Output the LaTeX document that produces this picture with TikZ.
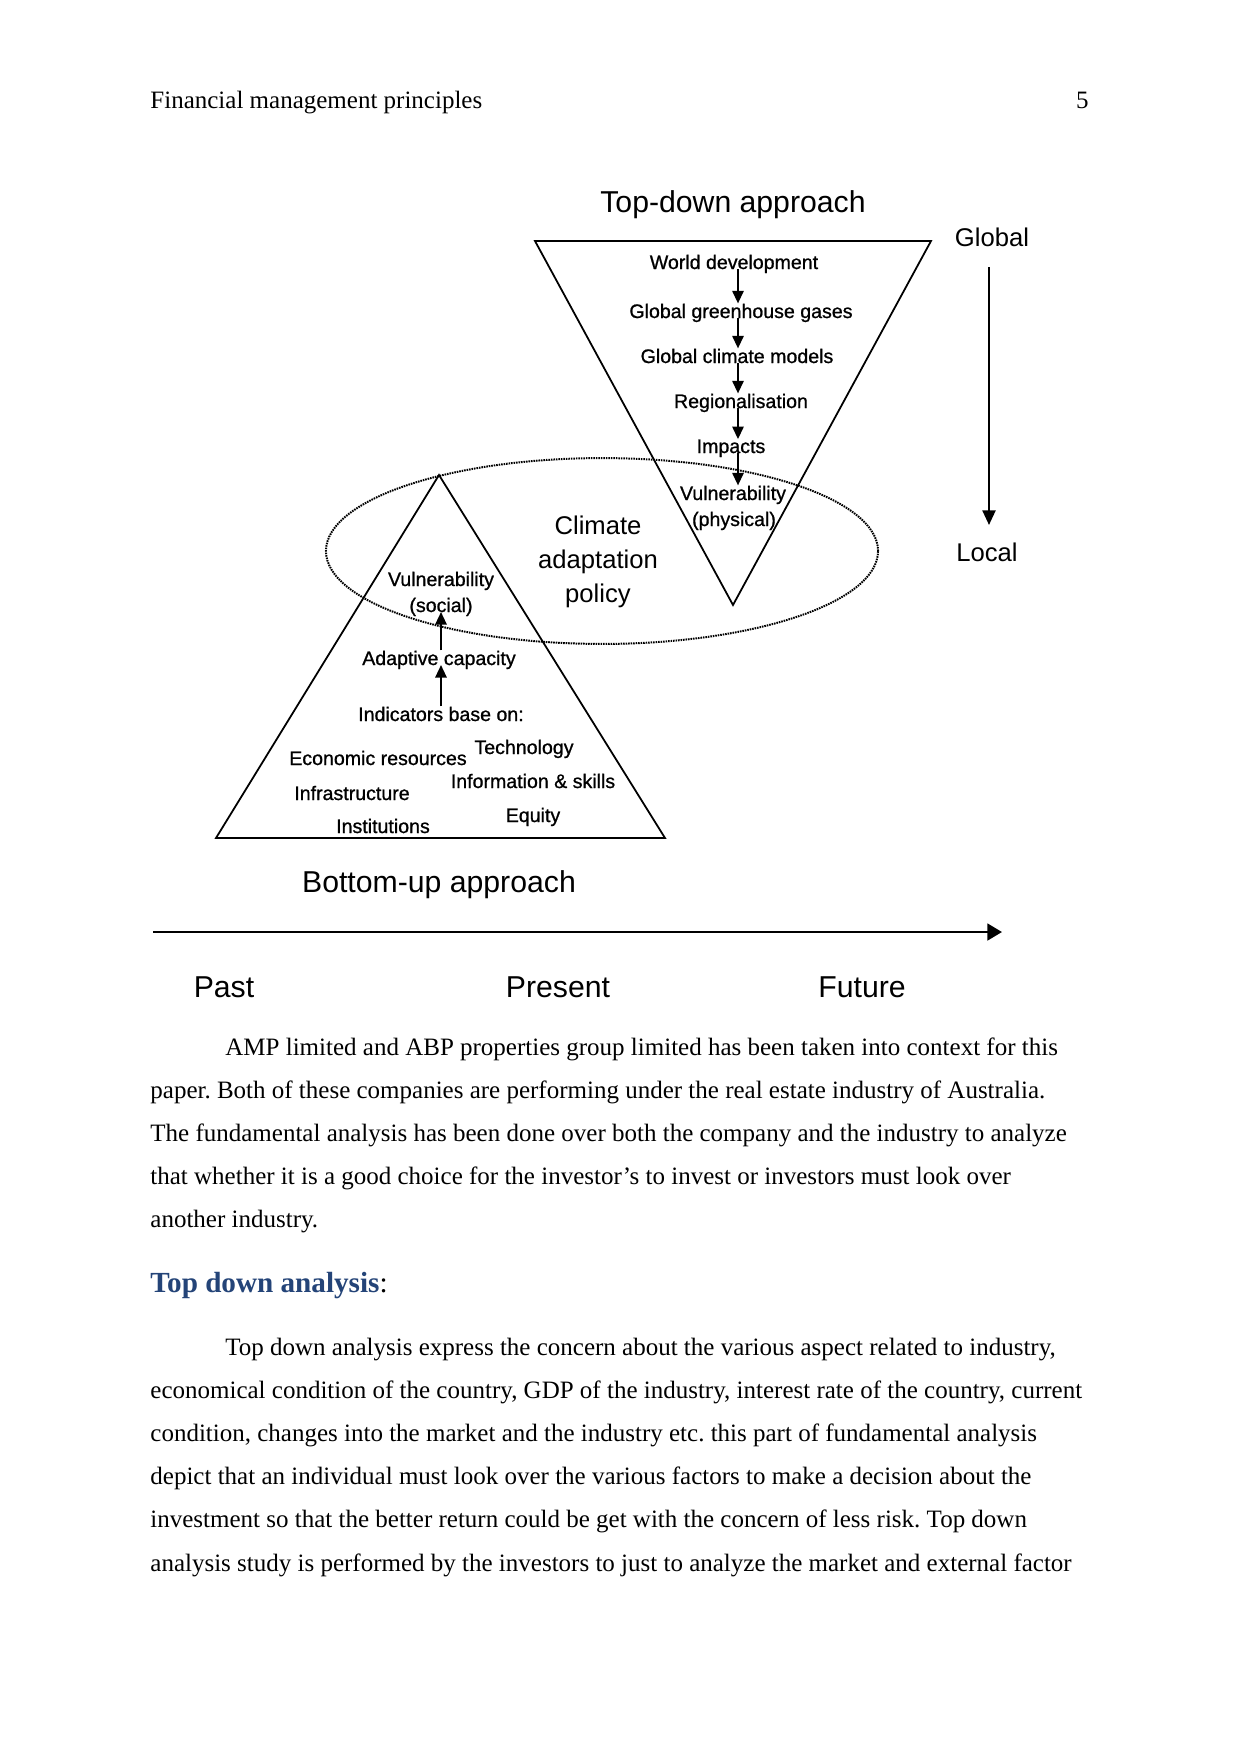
\documentclass[tikz,border=0pt]{standalone}
\usepackage{fontspec}
\setmainfont{Liberation Serif}
\newfontfamily\arialf{Liberation Sans}
\newfontfamily\arialsb[FakeBold=0.9]{Liberation Sans}
\usetikzlibrary{arrows.meta}
\definecolor{headblue}{RGB}{36,68,120}
\frenchspacing
\begin{document}
\begin{tikzpicture}[x=0.48pt,y=-0.48pt,
  body/.style={anchor=base west,inner sep=0pt,font=\fontsize{12pt}{14pt}\selectfont},
  small/.style={anchor=base,inner sep=0pt,font=\arialsb\fontsize{9.4pt}{11pt}\selectfont},
  mid/.style={anchor=base,inner sep=0pt,font=\arialf\fontsize{12.3pt}{14pt}\selectfont},
  big/.style={anchor=base,inner sep=0pt,font=\arialf\fontsize{14.5pt}{17pt}\selectfont},
  tri/.style={draw,line width=0.85pt,line join=miter},
  chain/.style={line width=0.95pt,-{Triangle[length=6pt,width=5.4pt]}},
  gl/.style={line width=1.1pt,-{Triangle[length=7pt,width=6.2pt]}},
  tl/.style={line width=1.3pt,-{Triangle[length=7pt,width=8pt]}},
  dots/.style={line width=0.95pt,dash pattern=on 0.75pt off 0.45pt}]
\useasboundingbox (0,0) rectangle (1241,1754);
\fill[white] (0,0) rectangle (1241,1754);

% header
\node[body] (hdr) at (150,108) {Financial management principles};
\node[anchor=base east,inner sep=0pt,font=\fontsize{12pt}{14pt}\selectfont] (pg) at (1089,108) {5};

% top-down triangle
\coordinate (A1) at (535,241);
\coordinate (A2) at (931,241);
\coordinate (A3) at (733,605);
\draw[tri] (A1) -- (A2) -- (A3) -- cycle;
\node[big] (tda) at (733,212) {Top-down approach};

% bottom-up triangle
\coordinate (B1) at (439,475);
\coordinate (B2) at (216,838);
\coordinate (B3) at (665,838);
\draw[tri] (B1) -- (B2) -- (B3) -- cycle;
\node[big] (bua) at (439,892) {Bottom-up approach};

% ellipse
\coordinate (EC) at (602,551);
\draw[dots] (EC) ellipse [x radius=132.5pt, y radius=44.6pt];
\node[mid] (cl1) at (598,534) {Climate};
\node[mid] (cl2) at (598,568) {adaptation};
\node[mid] (cl3) at (598,602) {policy};

% top-down chain
\node[small] (wd) at (734,269) {World development};
\node[small] (gg) at (741,318) {Global greenhouse gases};
\node[small] (gc) at (737,363) {Global climate models};
\node[small] (rg) at (741,408) {Regionalisation};
\node[small] (im) at (731,453) {Impacts};
\node[small] (vp1) at (733,500) {Vulnerability};
\node[small] (vp2) at (734,526) {(physical)};
\coordinate (ax) at (738,0);
\draw[chain] (ax |- wd.base) -- (ax |- gg.north);
\draw[chain] (ax |- gg.base) -- (ax |- gc.north);
\draw[chain] (ax |- gc.base) -- (ax |- rg.north);
\draw[chain] (ax |- rg.base) -- (ax |- im.north);
\draw[chain] (ax |- im.base) -- (ax |- vp1.north);

% bottom-up chain
\node[small] (vs1) at (441,586) {Vulnerability};
\node[small] (vs2) at (441,612) {(social)};
\node[small] (ac) at (439,665) {Adaptive capacity};
\node[small] (ib) at (441,721) {Indicators base on:};
\node[small] (er) at (378,765) {Economic resources};
\node[small] (te) at (524,754) {Technology};
\node[small] (is) at (533,788) {Information \& skills};
\node[small] (inf) at (352,800) {Infrastructure};
\node[small] (eq) at (533,822) {Equity};
\node[small] (ins) at (383,833) {Institutions};
\coordinate (bx) at (441,0);
\draw[chain] (bx |- ac.north) -- (bx |- vs2.base);
\draw[chain] (bx |- ib.north) -- (bx |- ac.base);

% global / local
\node[mid] (glob) at (992,246) {Global};
\node[mid] (loc) at (987,561) {Local};
\coordinate (g1) at (989,267);
\coordinate (g2) at (989,525);
\draw[gl] (g1) -- (g2);

% timeline
\coordinate (t1) at (153,932);
\coordinate (t2) at (1002,932);
\draw[tl] (t1) -- (t2);
\node[big] (past) at (224,997) {Past};
\node[big] (pres) at (558,997) {Present};
\node[big] (fut) at (862,997) {Future};

% body text
\node[body] (p1) at (225,1055) {AMP limited and ABP properties group limited has been taken into context for this};
\node[body] (p2) at (150,1098.2) {paper. Both of these companies are performing under the real estate industry of Australia.};
\node[body] (p3) at (150,1141.4) {The fundamental analysis has been done over both the company and the industry to analyze};
\node[body] (p4) at (150,1184.6) {that whether it is a good choice for the investor’s to invest or investors must look over};
\node[body] (p5) at (150,1227.8) {another industry.};

\node[body,font=\fontsize{14pt}{16pt}\selectfont] (hd) at (150,1292) {\textcolor{headblue}{\bfseries Top down analysis}:};

\node[body] (q1) at (225,1355) {Top down analysis express the concern about the various aspect related to industry,};
\node[body] (q2) at (150,1398.2) {economical condition of the country, GDP of the industry, interest rate of the country, current};
\node[body] (q3) at (150,1441.4) {condition, changes into the market and the industry etc. this part of fundamental analysis};
\node[body] (q4) at (150,1484.6) {depict that an individual must look over the various factors to make a decision about the};
\node[body] (q5) at (150,1527.8) {investment so that the better return could be get with the concern of less risk. Top down};
\node[body] (q6) at (150,1571) {analysis study is performed by the investors to just to analyze the market and external factor};
\end{tikzpicture}
\end{document}
